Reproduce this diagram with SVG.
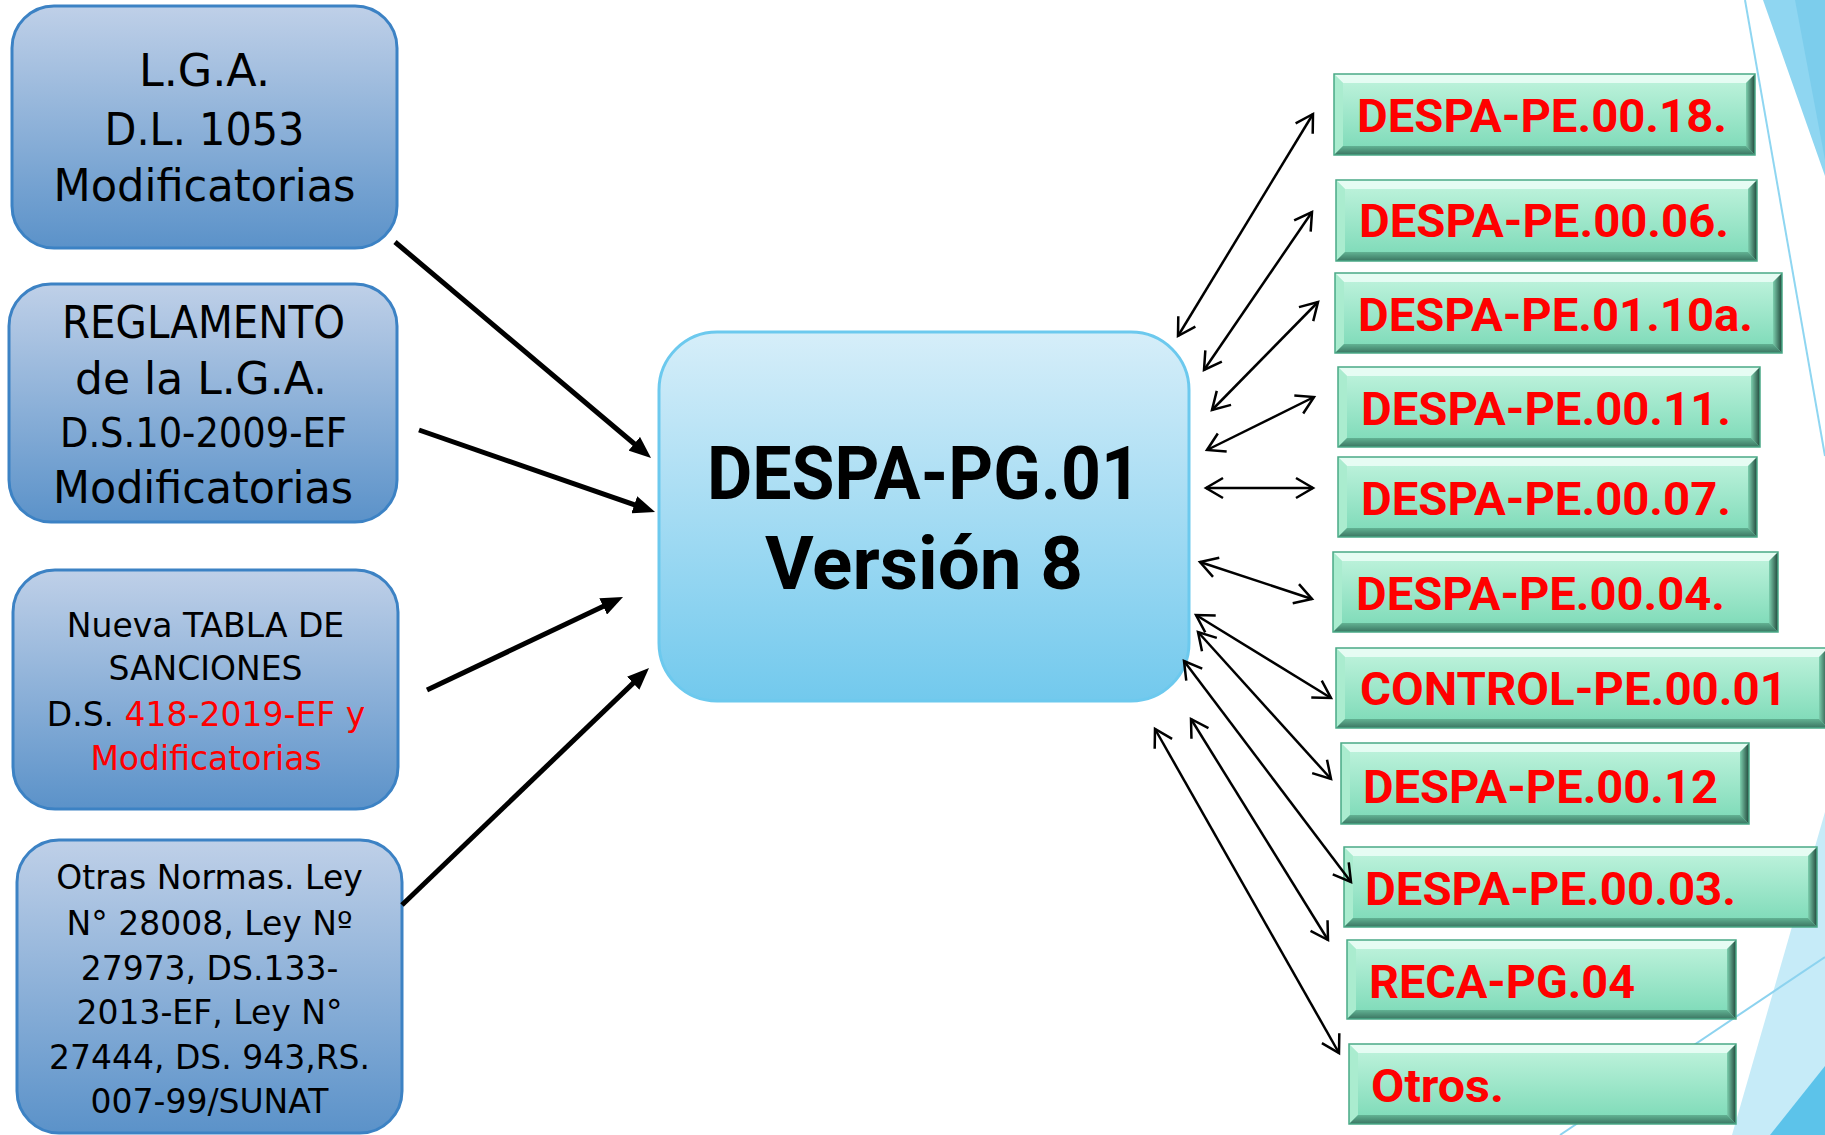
<svg xmlns="http://www.w3.org/2000/svg" width="1825" height="1135" viewBox="0 0 1825 1135">
<style>
.lbox{fill:url(#gLeft);stroke:#3c82c4;stroke-width:3}
.cbox{fill:url(#gCenter);stroke:#6cc9ee;stroke-width:3}
.rt{font-family:"DejaVu Sans","Liberation Sans",sans-serif;fill:#000;text-anchor:middle}
.red{fill:#ff0000}
.bt{font-family:Roboto,"Liberation Sans",sans-serif;font-weight:bold}
.face{fill:url(#gFace)}
.btop{fill:#eafdf5;opacity:.9}
.bleft{fill:#aaeccf}
.bright{fill:url(#gRight)}
.bbot{fill:url(#gBot)}
.edge{fill:none;stroke:#4aa987;stroke-width:1.5}
.gl{font-family:Roboto,"Liberation Sans",sans-serif;font-weight:bold;font-size:46px;fill:#ff0000}
.thick{stroke:#000;stroke-width:5;fill:none;marker-end:url(#ta)}
.thin{stroke:#000;stroke-width:2.5;fill:none;marker-start:url(#oa);marker-end:url(#oa)}
</style>
<defs>
<linearGradient id="gLeft" x1="0" y1="0" x2="0" y2="1"><stop offset="0" stop-color="#bfd0e8"/><stop offset="1" stop-color="#5b92c9"/></linearGradient>
<linearGradient id="gCenter" x1="0" y1="0" x2="0" y2="1"><stop offset="0" stop-color="#d6eef9"/><stop offset="1" stop-color="#72c9ed"/></linearGradient>
<linearGradient id="gFace" x1="0" y1="0" x2="0" y2="1"><stop offset="0" stop-color="#c2f4de"/><stop offset="1" stop-color="#7ad9b6"/></linearGradient>
<linearGradient id="gRight" x1="0" y1="0" x2="1" y2="0"><stop offset="0" stop-color="#7ccfae"/><stop offset="1" stop-color="#22473b"/></linearGradient>
<linearGradient id="gBot" x1="0" y1="0" x2="0" y2="1"><stop offset="0" stop-color="#62b293"/><stop offset="1" stop-color="#3a7561"/></linearGradient>
<marker id="ta" viewBox="0 0 22 18" refX="12" refY="9" markerWidth="22" markerHeight="18" markerUnits="userSpaceOnUse" orient="auto"><path d="M0,0 L22,9 L0,18 Z" fill="#000"/></marker>
<marker id="oa" viewBox="-22 -13 26 26" refX="0" refY="0" markerWidth="26" markerHeight="26" markerUnits="userSpaceOnUse" orient="auto-start-reverse" overflow="visible"><path d="M-17,-10 L0,0 L-17,10" fill="none" stroke="#000" stroke-width="2.5"/></marker>
</defs>

<g id="decor">
<polygon points="1763,0 1825,0 1825,176" fill="#8fd6f1"/>
<polygon points="1795,0 1825,0 1825,160" fill="#7ccdec"/>
<line x1="1745" y1="0" x2="1825" y2="456" stroke="#8fd6f1" stroke-width="2"/>
<polygon points="1825,812 1825,1135 1732,1135" fill="#c6ebf8"/>
<line x1="1560" y1="1135" x2="1825" y2="957" stroke="#8dd3ef" stroke-width="2"/>
<polygon points="1770,1135 1825,1066 1825,1135" fill="#5cc3ea"/>
</g>

<g id="n-lga">
<rect class="lbox" x="12" y="6" width="385" height="242" rx="42"/>
<text class="rt" font-size="44" x="204.5" y="86" textLength="131" lengthAdjust="spacingAndGlyphs">L.G.A.</text>
<text class="rt" font-size="44" x="204.5" y="145" textLength="200" lengthAdjust="spacingAndGlyphs">D.L. 1053</text>
<text class="rt" font-size="44" x="204.5" y="201" textLength="302" lengthAdjust="spacingAndGlyphs">Modificatorias</text>
</g>

<g id="n-reglamento">
<rect class="lbox" x="9" y="284" width="388" height="238" rx="42"/>
<text class="rt" font-size="44" x="203.5" y="337.5" textLength="283" lengthAdjust="spacingAndGlyphs">REGLAMENTO</text>
<text class="rt" font-size="44" x="201" y="394" textLength="252" lengthAdjust="spacingAndGlyphs">de la L.G.A.</text>
<text class="rt" font-size="41" x="203.5" y="447" textLength="287" lengthAdjust="spacingAndGlyphs">D.S.10-2009-EF</text>
<text class="rt" font-size="44" x="203" y="503" textLength="300" lengthAdjust="spacingAndGlyphs">Modificatorias</text>
</g>

<g id="n-tabla">
<rect class="lbox" x="13" y="570" width="385" height="239" rx="42"/>
<text class="rt" font-size="33" x="205.5" y="637">Nueva TABLA DE</text>
<text class="rt" font-size="33" x="205.5" y="680">SANCIONES</text>
<text class="rt" font-size="33" x="206" y="726">D.S. <tspan class="red">418-2019-EF y</tspan></text>
<text class="rt red" font-size="33" x="206" y="770">Modificatorias</text>
</g>

<g id="n-otras">
<rect class="lbox" x="17" y="840" width="385" height="293" rx="42"/>
<text class="rt" font-size="33" x="209.5" y="889">Otras Normas. Ley</text>
<text class="rt" font-size="33" x="209.5" y="935">N° 28008, Ley Nº</text>
<text class="rt" font-size="33" x="209.5" y="980">27973, DS.133-</text>
<text class="rt" font-size="33" x="209.5" y="1024">2013-EF, Ley N°</text>
<text class="rt" font-size="33" x="209.5" y="1069">27444, DS. 943,RS.</text>
<text class="rt" font-size="33" x="209.5" y="1113">007-99/SUNAT</text>
</g>

<g id="n-center">
<rect class="cbox" x="659" y="332" width="530" height="369" rx="58"/>
<text class="bt" font-size="75" x="924" y="499" text-anchor="middle" textLength="434" lengthAdjust="spacingAndGlyphs">DESPA-PG.01</text>
<text class="bt" font-size="75" x="924" y="589" text-anchor="middle" textLength="318" lengthAdjust="spacingAndGlyphs">Versión 8</text>
</g>

<g id="g1">
<rect class="face" x="1334" y="74" width="421" height="81"/>
<path class="btop" d="M1334,74 H1755 L1746,83 H1343 Z"/>
<path class="bleft" d="M1334,74 L1343,83 V146 L1334,155 Z"/>
<path class="bright" d="M1755,74 V155 L1746,146 V83 Z"/>
<path class="bbot" d="M1334,155 L1343,146 H1746 L1755,155 Z"/>
<rect class="edge" x="1334" y="74" width="421" height="81"/>
<text class="gl" x="1357" y="132" textLength="370" lengthAdjust="spacingAndGlyphs">DESPA-PE.00.18.</text>
</g>
<g id="g2">
<rect class="face" x="1336" y="180" width="421" height="81"/>
<path class="btop" d="M1336,180 H1757 L1748,189 H1345 Z"/>
<path class="bleft" d="M1336,180 L1345,189 V252 L1336,261 Z"/>
<path class="bright" d="M1757,180 V261 L1748,252 V189 Z"/>
<path class="bbot" d="M1336,261 L1345,252 H1748 L1757,261 Z"/>
<rect class="edge" x="1336" y="180" width="421" height="81"/>
<text class="gl" x="1359" y="237" textLength="370" lengthAdjust="spacingAndGlyphs">DESPA-PE.00.06.</text>
</g>
<g id="g3">
<rect class="face" x="1335" y="273" width="447" height="80"/>
<path class="btop" d="M1335,273 H1782 L1773,282 H1344 Z"/>
<path class="bleft" d="M1335,273 L1344,282 V344 L1335,353 Z"/>
<path class="bright" d="M1782,273 V353 L1773,344 V282 Z"/>
<path class="bbot" d="M1335,353 L1344,344 H1773 L1782,353 Z"/>
<rect class="edge" x="1335" y="273" width="447" height="80"/>
<text class="gl" x="1358" y="331" textLength="395" lengthAdjust="spacingAndGlyphs">DESPA-PE.01.10a.</text>
</g>
<g id="g4">
<rect class="face" x="1338" y="367" width="422" height="80"/>
<path class="btop" d="M1338,367 H1760 L1751,376 H1347 Z"/>
<path class="bleft" d="M1338,367 L1347,376 V438 L1338,447 Z"/>
<path class="bright" d="M1760,367 V447 L1751,438 V376 Z"/>
<path class="bbot" d="M1338,447 L1347,438 H1751 L1760,447 Z"/>
<rect class="edge" x="1338" y="367" width="422" height="80"/>
<text class="gl" x="1361" y="425" textLength="370" lengthAdjust="spacingAndGlyphs">DESPA-PE.00.11.</text>
</g>
<g id="g5">
<rect class="face" x="1338" y="457" width="419" height="80"/>
<path class="btop" d="M1338,457 H1757 L1748,466 H1347 Z"/>
<path class="bleft" d="M1338,457 L1347,466 V528 L1338,537 Z"/>
<path class="bright" d="M1757,457 V537 L1748,528 V466 Z"/>
<path class="bbot" d="M1338,537 L1347,528 H1748 L1757,537 Z"/>
<rect class="edge" x="1338" y="457" width="419" height="80"/>
<text class="gl" x="1361" y="515" textLength="370" lengthAdjust="spacingAndGlyphs">DESPA-PE.00.07.</text>
</g>
<g id="g6">
<rect class="face" x="1333" y="552" width="445" height="80"/>
<path class="btop" d="M1333,552 H1778 L1769,561 H1342 Z"/>
<path class="bleft" d="M1333,552 L1342,561 V623 L1333,632 Z"/>
<path class="bright" d="M1778,552 V632 L1769,623 V561 Z"/>
<path class="bbot" d="M1333,632 L1342,623 H1769 L1778,632 Z"/>
<rect class="edge" x="1333" y="552" width="445" height="80"/>
<text class="gl" x="1356" y="610" textLength="369" lengthAdjust="spacingAndGlyphs">DESPA-PE.00.04.</text>
</g>
<g id="g7">
<rect class="face" x="1336" y="648" width="492" height="80"/>
<path class="btop" d="M1336,648 H1828 L1819,657 H1345 Z"/>
<path class="bleft" d="M1336,648 L1345,657 V719 L1336,728 Z"/>
<path class="bright" d="M1828,648 V728 L1819,719 V657 Z"/>
<path class="bbot" d="M1336,728 L1345,719 H1819 L1828,728 Z"/>
<rect class="edge" x="1336" y="648" width="492" height="80"/>
<text class="gl" x="1360" y="705" textLength="427" lengthAdjust="spacingAndGlyphs">CONTROL-PE.00.01</text>
</g>
<g id="g8">
<rect class="face" x="1341" y="743" width="408" height="81"/>
<path class="btop" d="M1341,743 H1749 L1740,752 H1350 Z"/>
<path class="bleft" d="M1341,743 L1350,752 V815 L1341,824 Z"/>
<path class="bright" d="M1749,743 V824 L1740,815 V752 Z"/>
<path class="bbot" d="M1341,824 L1350,815 H1740 L1749,824 Z"/>
<rect class="edge" x="1341" y="743" width="408" height="81"/>
<text class="gl" x="1363" y="803" textLength="355" lengthAdjust="spacingAndGlyphs">DESPA-PE.00.12</text>
</g>
<g id="g9">
<rect class="face" x="1344" y="847" width="473" height="80"/>
<path class="btop" d="M1344,847 H1817 L1808,856 H1353 Z"/>
<path class="bleft" d="M1344,847 L1353,856 V918 L1344,927 Z"/>
<path class="bright" d="M1817,847 V927 L1808,918 V856 Z"/>
<path class="bbot" d="M1344,927 L1353,918 H1808 L1817,927 Z"/>
<rect class="edge" x="1344" y="847" width="473" height="80"/>
<text class="gl" x="1365" y="905" textLength="371" lengthAdjust="spacingAndGlyphs">DESPA-PE.00.03.</text>
</g>
<g id="g10">
<rect class="face" x="1347" y="940" width="389" height="79"/>
<path class="btop" d="M1347,940 H1736 L1727,949 H1356 Z"/>
<path class="bleft" d="M1347,940 L1356,949 V1010 L1347,1019 Z"/>
<path class="bright" d="M1736,940 V1019 L1727,1010 V949 Z"/>
<path class="bbot" d="M1347,1019 L1356,1010 H1727 L1736,1019 Z"/>
<rect class="edge" x="1347" y="940" width="389" height="79"/>
<text class="gl" x="1369" y="998" textLength="266" lengthAdjust="spacingAndGlyphs">RECA-PG.04</text>
</g>
<g id="g11">
<rect class="face" x="1349" y="1044" width="387" height="80"/>
<path class="btop" d="M1349,1044 H1736 L1727,1053 H1358 Z"/>
<path class="bleft" d="M1349,1044 L1358,1053 V1115 L1349,1124 Z"/>
<path class="bright" d="M1736,1044 V1124 L1727,1115 V1053 Z"/>
<path class="bbot" d="M1349,1124 L1358,1115 H1727 L1736,1124 Z"/>
<rect class="edge" x="1349" y="1044" width="387" height="80"/>
<text class="gl" x="1371" y="1102" textLength="133" lengthAdjust="spacingAndGlyphs">Otros.</text>
</g>

<g id="connectors">
<path class="thick" d="M395,242 L643.4,451.5"/>
<path class="thick" d="M419,430 L645.6,508.7"/>
<path class="thick" d="M427,690 L614,601.3"/>
<path class="thick" d="M402,905 L641.8,674.9"/>
<path class="thin" d="M1178,336 L1313,114"/>
<path class="thin" d="M1204,370 L1312,212"/>
<path class="thin" d="M1212,410 L1318,302"/>
<path class="thin" d="M1207,450 L1314,397"/>
<path class="thin" d="M1206,488 L1313,488"/>
<path class="thin" d="M1200,562 L1312,599"/>
<path class="thin" d="M1196,615 L1331,698"/>
<path class="thin" d="M1198,632 L1331,779"/>
<path class="thin" d="M1184,661 L1351,882"/>
<path class="thin" d="M1191,719 L1328,940"/>
<path class="thin" d="M1155,729 L1339,1053"/>
</g>
</svg>
